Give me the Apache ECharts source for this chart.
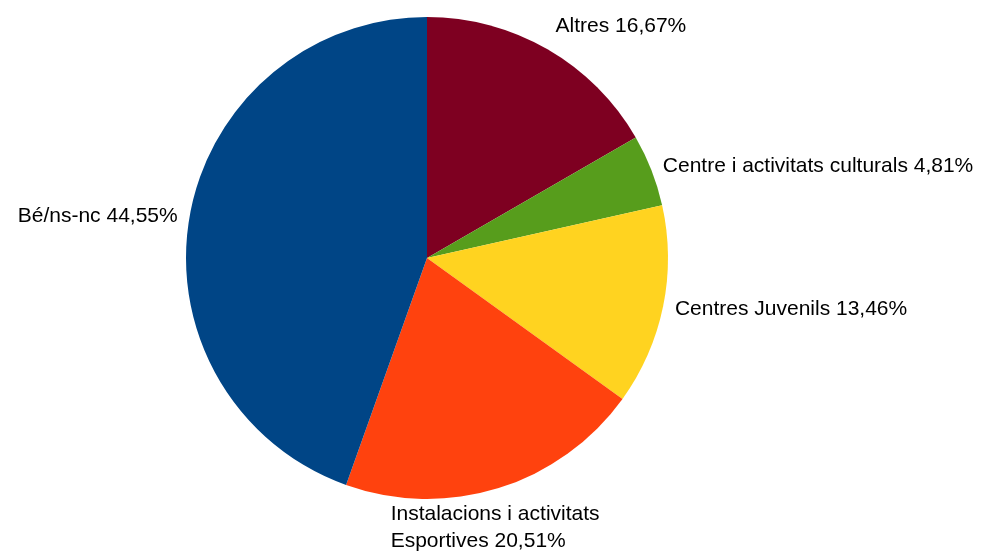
<!DOCTYPE html>
<html>
<head>
<meta charset="utf-8">
<script src="https://cdn.jsdelivr.net/npm/echarts@6/dist/echarts.min.js"></script>
<style>html,body{margin:0;padding:0;background:#fff;}#c{width:984px;height:552px;}</style>
</head>
<body>
<div id="c"></div>
<script>
var categories = ['Altres', 'Centre i activitats culturals', 'Centres Juvenils', 'Instalacions i activitats\nEsportives', 'Bé/ns-nc'];
var values = [16.67, 4.81, 13.46, 20.51, 44.55];
var colors = ['#7E0021', '#579D1C', '#FFD320', '#FF420E', '#004586'];

var chart = echarts.init(document.getElementById('c'));
chart.setOption({
  animation: false,
  series: [{
    type: 'pie',
    center: [427, 258],
    radius: 241,
    startAngle: 90,
    clockwise: true,
    avoidLabelOverlap: false,
    data: categories.map(function (n, i) { return { name: n, value: values[i], itemStyle: { color: colors[i] } }; }),
    label: {
      show: true,
      position: 'outside',
      fontFamily: 'Liberation Sans, Arial, sans-serif',
      fontSize: 21,
      lineHeight: 27,
      color: '#000',
      distanceToLabelLine: 5,
      formatter: function (p) { return p.name + ' ' + p.value.toFixed(2).replace('.', ',') + '%'; }
    },
    labelLine: { show: false, length: 10, length2: 0 },
    labelLayout: function (p) {
      if (p.dataIndex === 0) return { dx: -2, dy: -14 };
      if (p.dataIndex === 1) return { dx: -3 };
      if (p.dataIndex === 2) return { dx: -3, dy: 1 };
      if (p.dataIndex === 3) return { align: 'left', dx: -116, dy: 30 };
      if (p.dataIndex === 4) return { dx: 3, dy: 1 };
      return {};
    },
    emphasis: { disabled: true }
  }]
});
</script>
</body>
</html>
